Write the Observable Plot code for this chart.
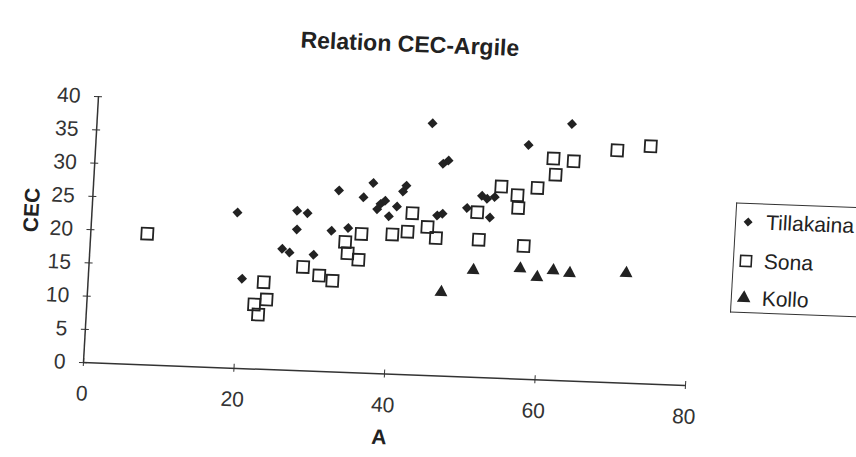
<!DOCTYPE html>
<html>
<head>
<meta charset="utf-8">
<script src="https://cdn.jsdelivr.net/npm/d3@7"></script>
<script src="https://cdn.jsdelivr.net/npm/@observablehq/plot@0.6"></script>
<style>
  html, body { margin: 0; padding: 0; background: #fff; overflow: hidden; width: 856px; height: 457px; }
  /* the scanned original is slightly rotated/skewed: reproduce that with an affine transform */
  #wrap { position: relative; width: 856px; height: 457px; transform: matrix(1, 0.0382, -0.0564, 1, 0, 0); transform-origin: 0 0; font-family: "Liberation Sans", Arial, sans-serif; color: #222; }
  #title { height: 50px; box-sizing: border-box; padding-top: 17px; padding-right: 33px; text-align: center; font-size: 23px; font-weight: bold; line-height: 23px; }
  #legend { position: absolute; left: 746px; top: 174px; width: 150px; height: 110px; box-sizing: border-box; border: 1.5px solid #333; border-right: none; font-size: 21px; }
  .row { position: absolute; left: 0; height: 24px; line-height: 24px; display: flex; align-items: center; }
  .row svg { margin-left: 4px; margin-right: 10px; }
</style>
</head>
<body>
<div id="wrap">
  <div id="title">Relation CEC-Argile</div>
  <div id="chart"></div>
  <div id="legend"></div>
</div>
<script>
// Series names
const seriesNames = ["Tillakaina", "Sona", "Kollo"];

// Tillakaina (A, CEC)
const tillakainaA   = [19.3, 27.2, 28.6, 27.3, 25.5, 26.5, 29.7, 20.4, 44.5, 46.2, 46.9, 37.1, 32.6, 41.1, 41.5, 35.9, 38.2, 38.8, 37.8, 40.4, 39.4, 45.8, 46.5, 31.9, 34.1, 51.6, 52.3, 53.3, 49.7, 52.8, 63.0, 57.4];
const tillakainaCEC = [23.4, 24.0, 23.7, 21.2, 18.2, 17.7, 17.5, 13.5, 37.9, 31.9, 32.4, 28.6, 27.3, 27.5, 28.4, 26.4, 25.5, 26.0, 24.7, 25.2, 23.7, 24.1, 24.4, 21.2, 21.7, 27.3, 26.9, 27.2, 25.4, 24.1, 38.6, 35.2];

// Sona (A, CEC)
const sonaA   = [7.5, 28.4, 30.6, 32.4, 23.3, 23.8, 22.2, 22.8, 42.5, 44.6, 42.0, 40.0, 45.8, 35.9, 33.8, 34.2, 35.7, 51.1, 51.5, 54.1, 69.2, 73.6, 60.8, 63.5, 61.2, 58.9, 56.3, 56.5, 57.5];
const sonaCEC = [19.7, 15.6, 14.4, 13.7, 13.1, 10.5, 9.7, 8.2, 24.3, 22.3, 21.5, 21.0, 20.7, 20.9, 19.6, 17.9, 17.0, 24.8, 20.7, 28.8, 34.9, 35.7, 33.3, 33.0, 30.9, 28.8, 27.6, 25.7, 20.0];

// Kollo (A, CEC)
const kolloA   = [46.9, 51.0, 57.2, 59.5, 61.6, 63.8, 71.3];
const kolloCEC = [12.6, 16.1, 16.6, 15.4, 16.5, 16.2, 16.5];

// Ticks
const xTicks = [0, 20, 40, 60, 80];
const yTicks = [0, 5, 10, 15, 20, 25, 30, 35, 40];
const xLabel = "A";
const yLabel = "CEC";

const zip = (xs, ys) => xs.map((x, i) => ({A: x, CEC: ys[i]}));
const tilla = zip(tillakainaA, tillakainaCEC);
const sona = zip(sonaA, sonaCEC);
const kollo = zip(kolloA, kolloCEC);

const ink = "#222";
const symDiamond = d3.symbolDiamond2;
const symSquare = d3.symbolSquare;
const symTriangle = d3.symbolTriangle;

const marks = [
  Plot.ruleX([0], {stroke: "#333", strokeWidth: 1.5}),
  Plot.ruleY([0], {stroke: "#333", strokeWidth: 1.5})
];
if (Plot.axisX) {
  marks.push(
    Plot.axisX({ticks: xTicks, tickSize: 8, dy: -4, tickPadding: 19, label: null, stroke: "#333", fill: "#333", fontSize: 21}),
    Plot.axisY({ticks: yTicks, tickSize: 8, dx: 4, tickPadding: 14, label: null, stroke: "#333", fill: "#333", fontSize: 21})
  );
}
marks.push(
  Plot.dot(tilla, {x: "A", y: "CEC", symbol: symDiamond, r: 4.5, fill: ink, stroke: "none"}),
  Plot.dot(sona, {x: "A", y: "CEC", symbol: symSquare, r: 6.6, fill: "none", stroke: ink, strokeWidth: 1.8}),
  Plot.dot(kollo, {x: "A", y: "CEC", symbol: symTriangle, r: 4.8, fill: ink, stroke: "none"}),
  Plot.text([yLabel], {text: d => d, frameAnchor: "left", rotate: -90, dx: -60, dy: 5, fontSize: 21, fontWeight: "bold", fill: ink}),
  Plot.text([xLabel], {text: d => d, frameAnchor: "bottom", dy: 70, dx: -2, fontSize: 21, fontWeight: "bold", fill: ink})
);

const chart = Plot.plot({
  width: 856,
  height: 407,
  marginLeft: 103.2,
  marginRight: 150.8,
  marginTop: 42.1,
  marginBottom: 98.9,
  x: Plot.axisX ? {domain: [0, 80], axis: null} : {domain: [0, 80], ticks: xTicks, tickSize: 6, tickPadding: 15, label: null},
  y: Plot.axisX ? {domain: [0, 40], axis: null} : {domain: [0, 40], ticks: yTicks, tickSize: 6, tickPadding: 10, label: null},
  style: {fontFamily: "'Liberation Sans', Arial, sans-serif", fontSize: "21px", color: "#333", background: "white", overflow: "visible"},
  marks
});
document.getElementById("chart").appendChild(chart);

// Legend
const legend = document.getElementById("legend");
const legendSymbols = [
  {sym: symDiamond, size: Math.PI * 4.5 * 4.5 * 0.8, fill: ink, stroke: "none", sw: 0},
  {sym: symSquare, size: 120, fill: "none", stroke: ink, sw: 1.6},
  {sym: symTriangle, size: 80, fill: ink, stroke: "none", sw: 0}
];
const rowTops = [18, 57, 94];
seriesNames.forEach((name, i) => {
  const row = document.createElement("div");
  row.className = "row";
  row.style.top = (rowTops[i] - 12) + "px";
  const s = legendSymbols[i];
  const svg = d3.create("svg").attr("width", 16).attr("height", 16);
  svg.append("path")
    .attr("transform", "translate(8,8)")
    .attr("d", d3.symbol(s.sym, s.size)())
    .attr("fill", s.fill).attr("stroke", s.stroke).attr("stroke-width", s.sw);
  row.appendChild(svg.node());
  const t = document.createElement("span");
  t.textContent = name;
  row.appendChild(t);
  legend.appendChild(row);
});
</script>
</body>
</html>
